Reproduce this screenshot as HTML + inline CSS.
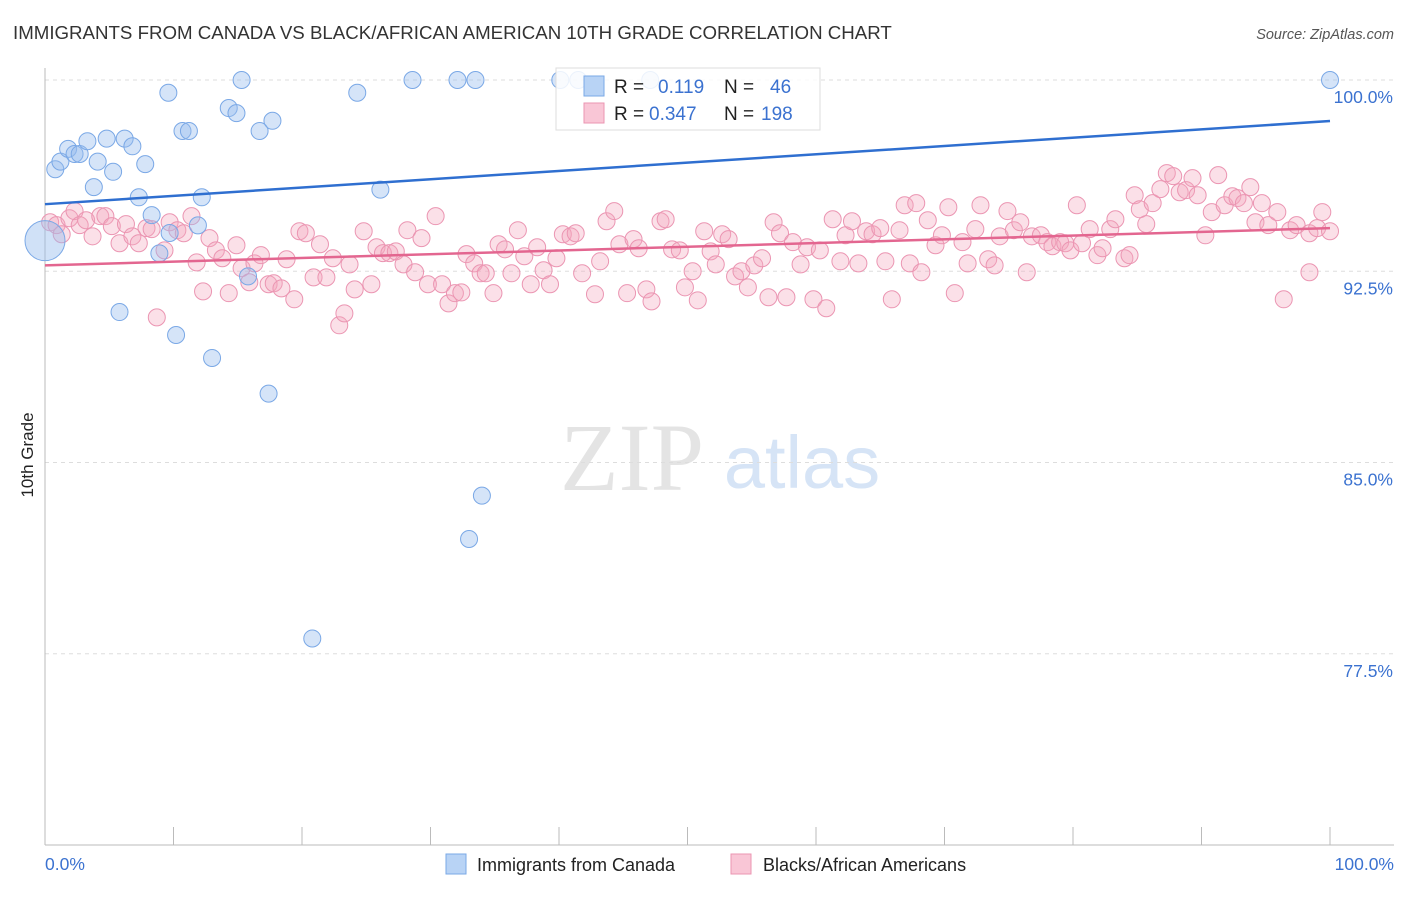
<!DOCTYPE html>
<html><head><meta charset="utf-8"><style>
body{margin:0;background:#fff;font-family:"Liberation Sans",sans-serif}
svg text{font-family:"Liberation Sans",sans-serif}
</style></head><body>
<svg id="chart" width="1406" height="892">
<text x="13" y="39" font-size="18.7" fill="#333">IMMIGRANTS FROM CANADA VS BLACK/AFRICAN AMERICAN 10TH GRADE CORRELATION CHART</text>
<text x="1394" y="39" font-size="14.5" fill="#555" font-style="italic" text-anchor="end">Source: ZipAtlas.com</text>
<text transform="translate(33,455) rotate(-90)" font-size="17" fill="#222" text-anchor="middle">10th Grade</text>
<g>
<text x="632" y="490" font-size="96" fill="#e4e4e4" text-anchor="middle" font-family="Liberation Serif" style="font-family:'Liberation Serif',serif">ZIP</text>
<text x="802" y="488" font-size="74" fill="#d6e4f6" text-anchor="middle">atlas</text>
</g>
<g id="grid"></g><g id="axes"></g><g id="pts"></g><g id="trends"></g>
<g>
<rect x="556" y="68" width="264" height="62" fill="rgba(255,255,255,0.85)" stroke="#ddd"/>
<rect x="584" y="76" width="20" height="20" fill="#b8d3f5" stroke="#7aa8e6"/>
<text x="614" y="93" font-size="19" fill="#222">R = </text><text x="658" y="93" font-size="19" fill="#3b72d0">0.119</text>
<text x="724" y="93" font-size="19" fill="#222">N = </text><text x="770" y="93" font-size="19" fill="#3b72d0">46</text>
<rect x="584" y="103" width="20" height="20" fill="#f9c6d6" stroke="#eb95b2"/>
<text x="614" y="120" font-size="19" fill="#222">R = </text><text x="649" y="120" font-size="19" fill="#3b72d0">0.347</text>
<text x="724" y="120" font-size="19" fill="#222">N = </text><text x="761" y="120" font-size="19" fill="#3b72d0">198</text>
</g>
<g>
<rect x="446" y="854" width="20" height="20" fill="#b8d3f5" stroke="#7aa8e6"/>
<text x="477" y="871" font-size="18" fill="#222">Immigrants from Canada</text>
<rect x="731" y="854" width="20" height="20" fill="#f9c6d6" stroke="#eb95b2"/>
<text x="763" y="871" font-size="18" fill="#222">Blacks/African Americans</text>
</g>
</svg>
<script>
const yTicks=[100,92.5,85,77.5];
const yTickLabels=["100.0%","92.5%","85.0%","77.5%"];
const xTickLabels=["0.0%","100.0%"];
const blueX=[0.8,1.2,1.8,2.3,2.7,3.3,3.8,4.1,4.8,5.3,6.2,6.8,7.3,7.8,8.3,8.9,9.6,9.7,10.7,11.2,11.9,12.2,13.0,14.3,14.9,15.3,15.8,16.7,17.4,17.7,20.8,24.3,26.1,28.6,32.1,33.5,33.0,34.0,40.1,41.5,47.1,100,5.8,10.2];
const blueY=[96.5,96.8,97.3,97.1,97.1,97.6,95.8,96.8,97.7,96.4,97.7,97.4,95.4,96.7,94.7,93.2,99.5,94.0,98.0,98.0,94.3,95.4,89.1,98.9,98.7,100,92.3,98.0,87.7,98.4,78.1,99.5,95.7,100,100,100,82.0,83.7,100,100,100,100,90.9,90.0];
const pinkX=[0.4,0.9,1.3,1.9,2.3,2.7,3.2,3.7,4.3,4.7,5.2,5.8,6.3,6.8,7.3,7.9,8.3,8.7,9.3,9.7,10.3,10.8,11.4,11.8,12.3,12.8,13.3,13.8,14.3,14.9,15.3,15.9,16.3,16.8,17.4,17.8,18.4,18.8,19.4,19.8,20.3,20.9,21.4,21.9,22.4,22.9,23.3,23.7,24.1,24.8,25.4,25.8,26.3,26.8,27.3,27.9,28.2,28.8,29.3,29.8,30.4,30.9,31.4,31.9,32.4,32.8,33.4,33.9,34.3,34.9,35.3,35.8,36.3,36.8,37.3,37.8,38.3,38.8,39.3,39.8,40.3,40.9,41.3,41.8,42.8,43.2,43.7,44.3,44.7,45.3,45.8,46.2,46.8,47.2,47.9,48.3,48.8,49.4,49.8,50.4,50.8,51.3,51.8,52.2,52.7,53.2,53.7,54.2,54.7,55.2,55.8,56.3,56.7,57.2,57.7,58.2,58.8,59.3,59.8,60.3,60.8,61.3,61.9,62.3,62.8,63.3,63.9,64.4,65.0,65.4,65.9,66.5,66.9,67.3,67.8,68.2,68.7,69.3,69.8,70.3,70.8,71.4,71.8,72.4,72.8,73.4,73.9,74.3,74.9,75.4,75.9,76.4,76.8,77.5,78.0,78.4,79.0,79.4,79.8,80.3,80.7,81.3,81.9,82.3,82.9,83.3,84.0,84.4,84.8,85.2,85.7,86.2,86.8,87.3,87.8,88.3,88.8,89.3,89.7,90.3,90.8,91.3,91.8,92.4,92.8,93.3,93.8,94.2,94.7,95.2,95.9,96.4,96.9,97.4,98.4,99.0,99.4,100,98.4];
const pinkY=[94.42,94.31,93.95,94.58,94.86,94.31,94.5,93.87,94.66,94.66,94.27,93.6,94.35,93.87,93.6,94.19,94.15,90.69,93.32,94.42,94.11,93.99,94.66,92.85,91.71,93.8,93.32,93.01,91.64,93.52,92.62,92.07,92.81,93.13,91.99,92.03,91.83,92.97,91.4,94.07,93.99,92.26,93.56,92.26,93.01,90.38,90.85,92.77,91.79,94.07,91.99,93.44,93.21,93.21,93.28,92.77,94.11,92.46,93.8,91.99,94.66,91.99,91.24,91.64,91.67,93.17,92.81,92.42,92.42,91.64,93.56,93.36,92.42,94.11,93.09,91.99,93.44,92.54,91.99,93.01,93.95,93.87,93.99,92.42,91.6,92.89,94.46,94.86,93.56,91.64,93.76,93.4,91.79,91.32,94.46,94.54,93.36,93.32,91.87,92.5,91.36,94.07,93.28,92.77,93.95,93.76,92.3,92.5,91.87,92.73,93.01,91.48,94.42,93.99,91.48,93.64,92.77,93.44,91.4,93.32,91.05,94.54,92.89,93.91,94.46,92.81,94.07,93.95,94.19,92.89,91.4,94.11,95.09,92.81,95.17,92.46,94.5,93.52,93.91,95.01,91.64,93.64,92.81,94.15,95.09,92.97,92.73,93.87,94.86,94.11,94.42,92.46,93.87,93.91,93.64,93.48,93.64,93.6,93.32,95.09,93.6,94.15,93.13,93.4,94.15,94.54,93.01,93.13,95.48,94.93,94.35,95.17,95.72,96.35,96.23,95.6,95.68,96.15,95.48,93.91,94.82,96.27,95.09,95.44,95.37,95.17,95.8,94.42,95.17,94.31,94.82,91.4,94.11,94.31,93.99,94.19,94.82,94.07,92.46];
const blueTrendX=[0,100], blueTrendY=[95.13,98.39];
const pinkTrendX=[0,100], pinkTrendY=[92.73,94.19];
const X0=45,X1=1330,Y0=845,Y1=80;
const sx=v=>X0+(v/100)*(X1-X0);
const sy=v=>Y0-(v-70)/30*(Y0-Y1);
const NS="http://www.w3.org/2000/svg";
function mk(t,a,p){const e=document.createElementNS(NS,t);for(const k in a)e.setAttribute(k,a[k]);p.appendChild(e);return e;}
const grid=document.getElementById('grid'),axes=document.getElementById('axes');
yTicks.forEach((v,i)=>{
 const l=mk('line',{x1:X0,x2:1394,y1:sy(v),y2:sy(v),stroke:'#ddd','stroke-dasharray':'4,4'},grid);
 
 
 const t=mk('text',{x:1393,y:sy(v)+23,'font-size':17.5,fill:'#3b72d0','text-anchor':'end'},axes);
 t.textContent=yTickLabels[i];
 
 
});
const ya=mk('line',{x1:X0,x2:X0,y1:68,y2:Y0,stroke:'#bbb'},axes);


const xa=mk('line',{x1:X0,x2:1394,y1:Y0,y2:Y0,stroke:'#bbb'},axes);


for(let i=0;i<=10;i++){
 const tk=mk('line',{x1:sx(i*10),x2:sx(i*10),y1:Y0-18,y2:Y0,stroke:'#bbb'},axes);
 
 
}
[[0,'start',45],[100,'end',1394]].forEach((d,i)=>{
 const t=mk('text',{x:d[2],y:870,'font-size':17.5,fill:'#3b72d0','text-anchor':d[1]},axes);
 t.textContent=xTickLabels[i];
 
 
});
const pts=document.getElementById('pts');
pinkX.forEach((x,i)=>{
 const c=mk('circle',{cx:sx(x),cy:sy(pinkY[i]),r:8.5,fill:'rgba(244,165,190,0.35)',stroke:'#eb95b2','stroke-width':1},pts);
 
 
});
blueX.forEach((x,i)=>{
 const c=mk('circle',{cx:sx(x),cy:sy(blueY[i]),r:8.5,fill:'rgba(150,188,238,0.4)',stroke:'#7aa8e6','stroke-width':1},pts);
 
 
});
const big=mk('circle',{cx:sx(0),cy:sy(93.7),r:20,fill:'rgba(150,188,238,0.45)',stroke:'#7aa8e6'},pts);


const tr=document.getElementById('trends');
const bl=mk('line',{x1:sx(blueTrendX[0]),y1:sy(blueTrendY[0]),x2:sx(blueTrendX[1]),y2:sy(blueTrendY[1]),stroke:'#2f6fd0','stroke-width':2.5},tr);


const pl=mk('line',{x1:sx(pinkTrendX[0]),y1:sy(pinkTrendY[0]),x2:sx(pinkTrendX[1]),y2:sy(pinkTrendY[1]),stroke:'#e36690','stroke-width':2.5},tr);


</script>
</body></html>
